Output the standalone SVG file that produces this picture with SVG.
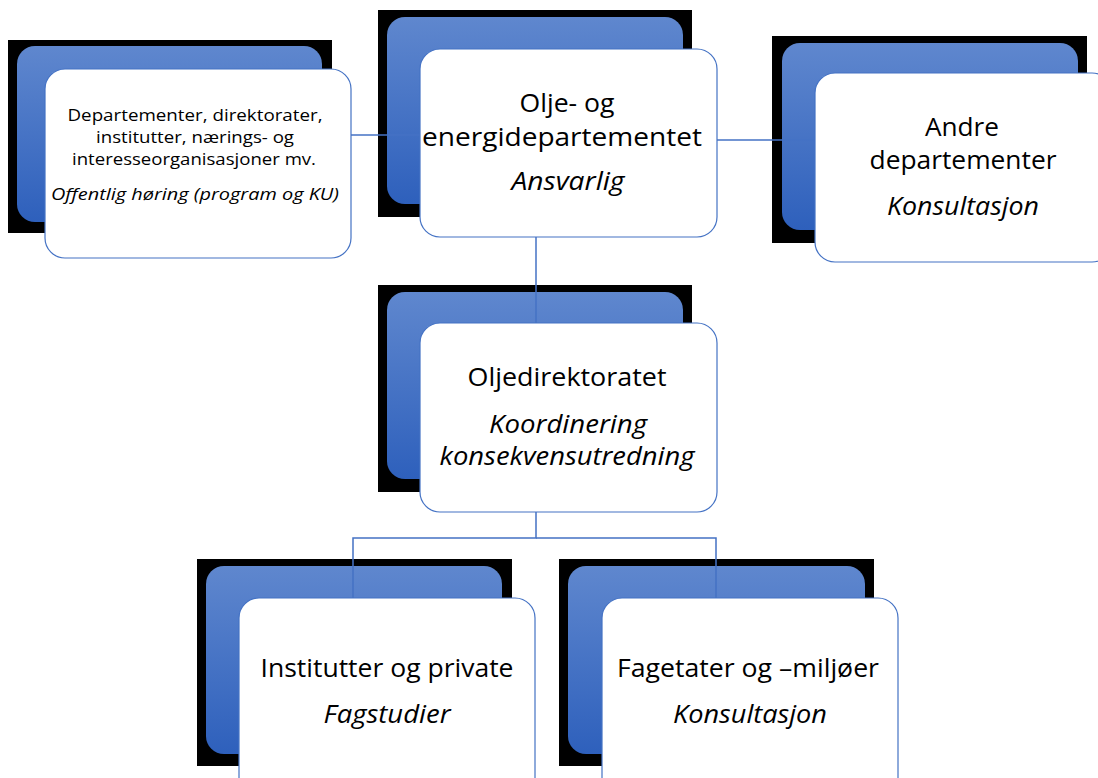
<svg xmlns="http://www.w3.org/2000/svg" width="1098" height="778" viewBox="0 0 1098 778">
<defs>
<linearGradient id="blueGrad" x1="0" y1="0" x2="0" y2="1">
<stop offset="0" stop-color="#5F87CE"/>
<stop offset="1" stop-color="#2E60BC"/>
</linearGradient>
</defs>
<style>
.shadow{fill:#000000}
.back{fill:url(#blueGrad)}
.card{fill:#FFFFFF;stroke:#4472C4;stroke-width:1.2}
.conn{fill:none;stroke:#4472C4;stroke-width:1.5}
text{font-family:"Open Sans",Lato,"Liberation Sans",sans-serif;fill:#000000;text-anchor:middle}
.big{font-size:25px}
.small{font-size:17px}
.it{font-style:italic}
</style>
<rect width="1098" height="778" fill="#FFFFFF"/>
<g id="node-left">
<rect class="shadow" x="8" y="40" width="324" height="193"/>
<rect class="back" x="17" y="46" width="305" height="176" rx="18"/>
<rect class="card" x="45" y="69" width="306" height="189" rx="20"/>
<text class="small" x="195" y="121" textLength="255" lengthAdjust="spacingAndGlyphs">Departementer, direktorater,</text>
<text class="small" x="195" y="143" textLength="198" lengthAdjust="spacingAndGlyphs">institutter, nærings- og</text>
<text class="small" x="194" y="165" textLength="244" lengthAdjust="spacingAndGlyphs">interesseorganisasjoner mv.</text>
<text class="small it" x="195" y="200" textLength="288" lengthAdjust="spacingAndGlyphs">Offentlig høring (program og KU)</text>
</g>
<g id="node-oed">
<rect class="shadow" x="378" y="10" width="314" height="207"/>
<rect class="back" x="387" y="17" width="296" height="187" rx="18"/>
<rect class="card" x="420" y="49" width="297" height="188" rx="20"/>
<text class="big" x="567" y="112" textLength="95" lengthAdjust="spacingAndGlyphs">Olje- og</text>
<text class="big" x="562" y="146" textLength="280" lengthAdjust="spacingAndGlyphs">energidepartementet</text>
<text class="big it" x="568" y="190" textLength="113" lengthAdjust="spacingAndGlyphs">Ansvarlig</text>
</g>
<g id="node-andre">
<rect class="shadow" x="772" y="36" width="315" height="207"/>
<rect class="back" x="782" y="43" width="296" height="187" rx="18"/>
<rect class="card" x="815" y="73" width="297" height="189" rx="20"/>
<text class="big" x="962" y="136" textLength="74" lengthAdjust="spacingAndGlyphs">Andre</text>
<text class="big" x="963" y="169" textLength="187" lengthAdjust="spacingAndGlyphs">departementer</text>
<text class="big it" x="963" y="215" textLength="152" lengthAdjust="spacingAndGlyphs">Konsultasjon</text>
</g>
<g id="node-od">
<rect class="shadow" x="378" y="285" width="314" height="207"/>
<rect class="back" x="387" y="292" width="296" height="187" rx="18"/>
<rect class="card" x="420" y="323" width="297" height="189" rx="20"/>
<text class="big" x="567" y="386" textLength="199" lengthAdjust="spacingAndGlyphs">Oljedirektoratet</text>
<text class="big it" x="568" y="433" textLength="158" lengthAdjust="spacingAndGlyphs">Koordinering</text>
<text class="big it" x="567" y="465" textLength="255" lengthAdjust="spacingAndGlyphs">konsekvensutredning</text>
</g>
<g id="node-institutter">
<rect class="shadow" x="197" y="559" width="315" height="207"/>
<rect class="back" x="206" y="566" width="296" height="188" rx="18"/>
<rect class="card" x="239" y="598" width="296" height="200" rx="20"/>
<text class="big" x="387" y="677" textLength="253" lengthAdjust="spacingAndGlyphs">Institutter og private</text>
<text class="big it" x="387" y="723" textLength="127" lengthAdjust="spacingAndGlyphs">Fagstudier</text>
</g>
<g id="node-fagetater">
<rect class="shadow" x="559" y="559" width="315" height="207"/>
<rect class="back" x="568" y="566" width="297" height="188" rx="18"/>
<rect class="card" x="602" y="598" width="296" height="200" rx="20"/>
<text class="big" x="748" y="677" textLength="262" lengthAdjust="spacingAndGlyphs">Fagetater og –miljøer</text>
<text class="big it" x="750" y="723" textLength="154" lengthAdjust="spacingAndGlyphs">Konsultasjon</text>
</g>
<g id="connectors">
<line class="conn" x1="351" y1="135" x2="420" y2="135"/>
<line class="conn" x1="717" y1="140" x2="815" y2="140"/>
<line class="conn" x1="536" y1="237" x2="536" y2="323"/>
<polyline class="conn" points="536,512 536,538 353,538 353,598"/>
<polyline class="conn" points="536,538 716,538 716,598"/>
</g>
</svg>
